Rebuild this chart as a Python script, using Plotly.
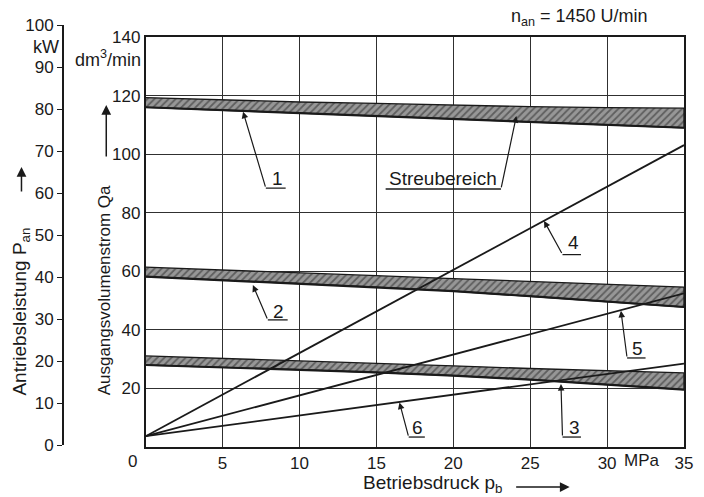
import plotly.graph_objects as go

# ---------------- data ----------------
pressure = [0, 5, 10, 15, 20, 25, 30, 35]          # MPa

band1_top = [119.3, 118.5, 117.8, 117.3, 116.7, 116.2, 115.9, 115.7]
band1_bot = [116.0, 115.0, 114.0, 112.8, 111.8, 111.0, 110.0, 109.0]
band2_top = [61.4, 60.5, 59.5, 58.5, 57.5, 56.6, 55.6, 54.6]
band2_bot = [58.2, 57.0, 55.8, 54.6, 53.2, 51.5, 49.6, 47.8]
band3_top = [31.1, 30.3, 29.5, 28.6, 27.7, 26.8, 26.0, 25.3]
band3_bot = [28.0, 27.2, 26.4, 25.5, 24.4, 23.0, 21.3, 19.6]

power_p = [0, 35]                                   # MPa
power4 = [2.1, 71.4]                                # kW
power5 = [2.1, 36.1]
power6 = [2.1, 19.4]

q_ticks = [20, 40, 60, 80, 100, 120, 140]
p_ticks = [5, 10, 15, 20, 25, 30, 35]
kw_ticks = [0, 10, 20, 30, 40, 50, 60, 70, 80, 90, 100]

# leader labels: (text, tip_x, tip_y, corner_x, corner_y, end_x, label_x, label_y)
leaders = [
    ("1", 6.33, 114.5, 7.81, 88.4, 9.1, 8.6, 91.8),
    ("2", 6.97, 55.3, 7.94, 43.4, 9.23, 8.65, 46.1),
    ("4", 25.9, 77.2, 27.1, 65.7, 28.3, 27.8, 69.8),
    ("5", 30.9, 46.5, 31.3, 30.4, 32.5, 31.96, 33.8),
    ("3", 27.0, 21.5, 27.1, 3.4, 28.3, 27.9, 6.8),
    ("6", 16.5, 15.2, 17.1, 3.4, 18.15, 17.7, 6.8),
]
streu = ("Streubereich", 24.1, 113.0, 23.1, 88.1, 15.6, 19.3, 91.8)

FONT = "Liberation Sans, Arial, sans-serif"
INK = "#1a1a1a"

fig = go.Figure()

for top, bot in [(band1_top, band1_bot), (band2_top, band2_bot), (band3_top, band3_bot)]:
    fig.add_trace(go.Scatter(
        x=pressure + pressure[::-1], y=top + bot[::-1],
        fill="toself", mode="lines",
        line=dict(color=INK, width=1.3),
        fillcolor="#8e8e8e",
        fillpattern=dict(shape="/", fgcolor="#262626", bgcolor="#979797", size=5, solidity=0.35),
        hoverinfo="skip", showlegend=False, xaxis="x", yaxis="y"))
    fig.add_trace(go.Scatter(x=pressure, y=bot, mode="lines",
                             line=dict(color=INK, width=2.2),
                             showlegend=False, xaxis="x", yaxis="y"))

for pw in [power4, power5, power6]:
    fig.add_trace(go.Scatter(x=power_p, y=pw, mode="lines",
                             line=dict(color=INK, width=1.8),
                             showlegend=False, xaxis="x2", yaxis="y2"))

shapes = []
annotations = []
for (t, tx, ty, cx, cy, ex, lx, ly) in leaders + [streu]:
    annotations.append(dict(x=tx, y=ty, xref="x", yref="y", ax=cx, ay=cy,
                            axref="x", ayref="y", text="", showarrow=True,
                            arrowhead=2, arrowsize=1.1, arrowwidth=1.2,
                            arrowcolor=INK, standoff=0))
    shapes.append(dict(type="line", xref="x", yref="y", x0=cx, y0=cy, x1=ex, y1=cy,
                       line=dict(color=INK, width=1.3)))
    annotations.append(dict(x=lx, y=ly, xref="x", yref="y", text=t, showarrow=False,
                            xanchor="center", yanchor="middle",
                            font=dict(size=19, color=INK, family=FONT)))

# axis titles / decoration
def pa(text, x, y, size=18, **kw):
    d = dict(x=x, y=y, xref="paper", yref="paper", text=text, showarrow=False,
             xanchor="center", yanchor="middle",
             font=dict(size=size, color=INK, family=FONT))
    d.update(kw)
    annotations.append(d)

pa("Ausgangsvolumenstrom Qa", 0.0784, 0.372, size=17, textangle=-90)
pa("Antriebsleistung P<sub>an</sub>", -0.0533, 0.322, size=19, textangle=-90)
pa("kW", -0.0141, 0.9479, size=18)
pa("dm<sup>3</sup>/min", 0.1395, 0.9218, size=18, xanchor="right")
pa("0", 0.1238, -0.0355, size=17)
pa("MPa", 0.9326, -0.033, size=17)
pa("Betriebsdruck p<sub>b</sub>", 0.4859, -0.088, size=19, xanchor="left")
pa("n<sub>an</sub> = 1450 U/min", 0.721, 1.0166, size=18, xanchor="left")

for (x, y, ax, ay) in [(0.0815, 0.8104, 0, 53), (-0.0533, 0.6635, 0, 26), (0.8182, -0.0948, -55, 0)]:
    annotations.append(dict(x=x, y=y, xref="paper", yref="paper", ax=ax, ay=ay, text="",
                            showarrow=True, arrowhead=2, arrowsize=1.3, arrowwidth=1.5,
                            arrowcolor=INK, standoff=0))

axis_font = dict(size=17, color=INK, family=FONT)

fig.update_layout(
    width=704, height=497,
    margin=dict(l=55, r=11, t=25, b=50),
    paper_bgcolor="white", plot_bgcolor="rgba(0,0,0,0)",
    showlegend=False,
    font=dict(family=FONT, color=INK),
    xaxis=dict(domain=[0.1442, 1], range=[0, 35], tickvals=p_ticks,
               ticks="", showgrid=True, gridcolor="#303030", gridwidth=1,
               showline=True, linecolor=INK, linewidth=1.8, mirror=True,
               zeroline=False, tickfont=axis_font, anchor="y"),
    yaxis=dict(domain=[0, 0.9716], range=[0, 140], tickvals=q_ticks,
               ticks="", showgrid=True, gridcolor="#303030", gridwidth=1,
               showline=True, linecolor=INK, linewidth=1.8, mirror=True,
               zeroline=False, tickfont=axis_font, anchor="x"),
    xaxis2=dict(domain=[0.1442, 1], range=[0, 35], visible=False, anchor="y2",
                showgrid=False, zeroline=False),
    yaxis2=dict(domain=[0.0047, 1], range=[0, 100], tickvals=kw_ticks,
                anchor="free", position=0.0125, side="left",
                showline=True, linecolor=INK, linewidth=1.5,
                ticks="outside", ticklen=5, tickcolor=INK, tickwidth=1.3,
                showgrid=False, zeroline=False, tickfont=axis_font),
    shapes=shapes,
    annotations=annotations,
)

fig.write_html("out.html", config={"displayModeBar": False},
               post_script="document.body.style.margin='0';")
